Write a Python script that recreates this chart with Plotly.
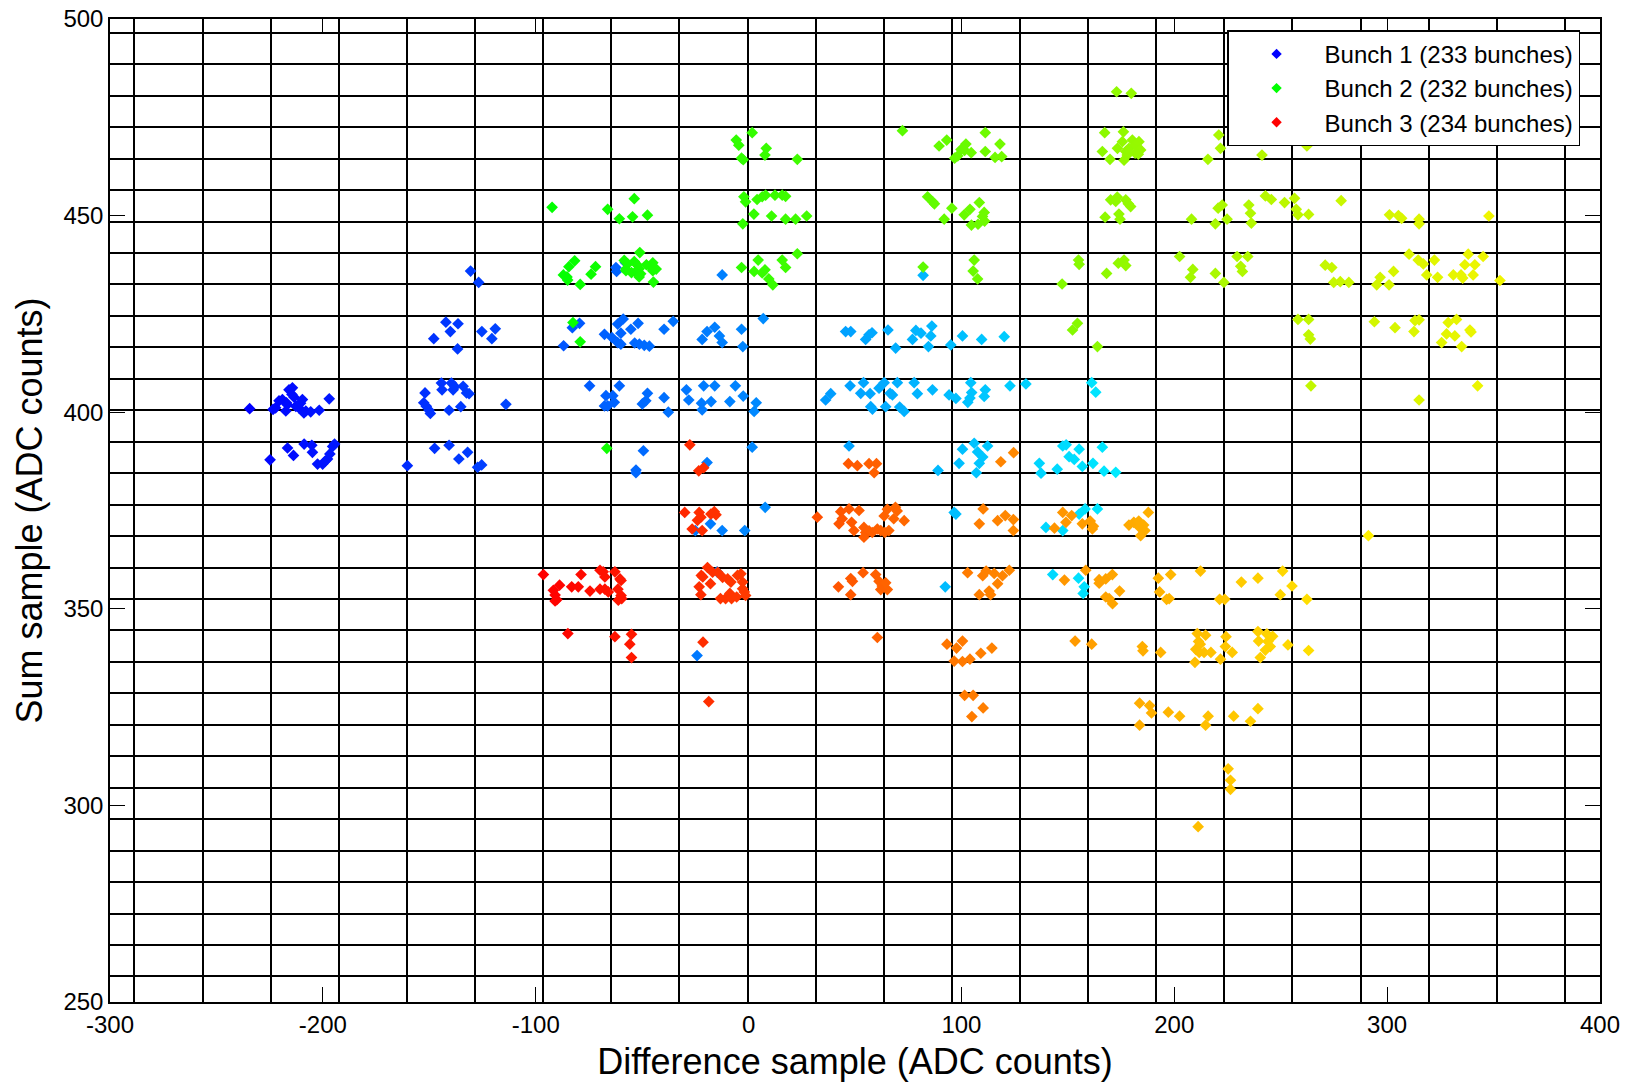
import plotly.graph_objects as go

# ---------------- data ----------------
x_tick_vals = [-300, -200, -100, 0, 100, 200, 300, 400]
y_tick_vals = [250, 300, 350, 400, 450, 500]
legend_names = ["Bunch 1 (233 bunches)", "Bunch 2 (232 bunches)", "Bunch 3 (234 bunches)"]
legend_colors = ["rgb(0,0,255)", "rgb(0,255,0)", "rgb(255,0,0)"]

# Bunch 1 : (difference, sum) pairs
bunch1_pts = [
    (-234.4, 400.9), (-223.4, 400.7), (-222.2, 401.1), (-219, 403.2), (-217.1, 402.4), (-215.9, 405.7),
    (-214.3, 406.2), (-213.5, 403.8), (-212.7, 401.5), (-217.4, 400.3), (-211.1, 401), (-209.6, 403.2),
    (-208, 400.3), (-205.7, 400.1), (-201.7, 400.5), (-197, 403.4), (-220.6, 402.9), (-216.7, 401.9),
    (-212, 401.6), (-208.9, 399.8), (-214.5, 404.5), (-210.5, 402.3),
    (-224.8, 387.9), (-216.6, 390.9), (-213.8, 389), (-208.8, 391.9), (-205.2, 391.6), (-204.9, 389.8),
    (-202.5, 386.8), (-200.1, 386.8), (-197.8, 388.1), (-196.7, 389.4), (-195.4, 391.3), (-194.5, 391.9),
    (-199, 387.5),
    (-152, 404.9), (-152.6, 402.4), (-151.4, 401.5), (-150.1, 400.5), (-149.5, 399.7), (-144.3, 407.4),
    (-144, 405.7), (-139.6, 407.4), (-138.8, 405.7), (-138, 406.5), (-134.1, 406.6), (-132.5, 404.9),
    (-131.3, 404.7), (-140.7, 400.5), (-135.2, 401.4), (-114, 402),
    (-160.3, 386.4), (-147.5, 390.8), (-140.7, 391.6), (-136.1, 388.1), (-132, 389.8), (-127.3, 386),
    (-125.4, 386.6),
    (-142.2, 422.9), (-136.5, 422.5), (-140.1, 420.5), (-147.9, 418.7), (-136.7, 416.1), (-130.6, 435.9),
    (-126.8, 433), (-125.3, 420.5), (-119, 421.2), (-120.6, 418.7),
    (-62.3, 436.8), (-62, 435.8), (-57.9, 438.1),
    (-79.4, 422.6), (-82.8, 421.5), (-86.9, 416.9), (-67.7, 419.8), (-64.2, 419), (-61.5, 417.7),
    (-60, 417.3), (-61.5, 422.4), (-58.9, 423.7), (-60, 420.1), (-55.3, 421.1), (-51.9, 422.6),
    (-53.5, 417.6), (-51.3, 417.3), (-49, 417), (-46.6, 416.8), (-39.7, 421.1), (-35.4, 423.1),
    (-74.7, 406.7), (-67, 404.2), (-67.7, 401.6), (-66.2, 401.6), (-63.1, 402.5), (-63.8, 404.2),
    (-60.7, 406.7), (-47.5, 404.8), (-48.3, 402.9), (-49.9, 402.1), (-39.7, 403.7), (-37.7, 400),
    (-49.4, 390.2), (-52.9, 385.3), (-52.9, 384.6),
    (-12.4, 434.9),
    (-15.9, 421.6), (-19.5, 420.5), (-21.8, 418.5), (-13.7, 419.4), (-12.4, 417.7), (-3.3, 421.1),
    (-2.7, 416.7), (6.9, 423.8),
    (-29.2, 405.7), (-28.1, 403.1), (-21.1, 406.7), (-15.9, 406.7), (-22.1, 402.3), (-21.8, 400.6),
    (-17.6, 402.7), (-8.8, 402.7), (-6.2, 406.7), (-2.5, 404.1), (3.6, 402.4), (2.6, 400.2),
    (1.7, 391.1), (-19.5, 387.2), (7.8, 375.8),
    (-17.9, 371.6), (-12.4, 369.9), (-25, 369.9), (-1.8, 369.9), (-14.8, 359.4), (-24.2, 338.1),
    (45.6, 420.5), (48, 420.5), (56.6, 419.7), (55, 418.5), (58, 420.2), (65.5, 420.9), (69.1, 416.3),
    (77, 418.5), (78.6, 420.8), (81, 420.1), (86.1, 421.9), (85.6, 419.4), (84.5, 416.7), (95, 417.1),
    (100.5, 419.4), (109.5, 418.5), (120.1, 419.2), (82, 434.8),
    (36.2, 403.1), (38.6, 404.7), (47.7, 406.7), (54, 407.5), (52.7, 404.8), (57.1, 404.7), (61.3, 406.1),
    (63.7, 407.5), (69.9, 407.5), (67.6, 404.4), (66.5, 404.8), (57.4, 401.4), (58.2, 400.8), (64.4, 401.4),
    (73.1, 400.2), (71, 401.3), (77.8, 407.5), (79.3, 404.7), (86.4, 405.7), (94.2, 404.4), (97.4, 403.5),
    (104.4, 407.5), (104.8, 405), (104, 403.6), (103, 402.5), (111.2, 405.7), (110.7, 404), (122.8, 406.7),
    (130.3, 407.2),
    (47.2, 391.4),
    (100.5, 390.6), (106, 392.1), (107.6, 389.9), (110, 388.6), (108.4, 387), (112.3, 391.4), (98.9, 387),
    (89, 385.2), (107, 384.6), (97.4, 374.1), (96.6, 374.5), (92.4, 355.6),
    (136.6, 387), (147.6, 391.4), (155.3, 390.6), (166.2, 391.1), (150.6, 388.7), (156.8, 386.2),
    (161.8, 387), (167, 385), (172.5, 384.7), (145, 385.5), (137.4, 384.5), (149.2, 391.7), (153, 388),
    (161.2, 407.5), (163.1, 405.1),
    (139.7, 370.7), (147.6, 369.9), (158.1, 375.4), (163.9, 375.4), (155.3, 374.1), (155, 357.8),
    (157.2, 353.9), (157.7, 355.6), (142.9, 358.7),
]

# Bunch 2
bunch2_pts = [
    (-92.3, 452.1), (-66.2, 451.6), (-53.7, 454.3), (-60.7, 449.2), (-54.5, 449.7), (-47.5, 450.1),
    (-81.7, 438.5), (-84.4, 437), (-85.3, 434.4), (-85, 433.6), (-74, 435.1), (-71.9, 437), (-79.1, 432.5),
    (-87, 434.9),
    (-58.4, 438.6), (-56.8, 437.7), (-57.6, 436), (-53.7, 438.3), (-52.2, 437.4), (-51.4, 436.5),
    (-53, 435.7), (-50.7, 435.2), (-51.4, 434.4), (-45, 438), (-45.8, 436.8), (-43.4, 436.4), (-45, 436),
    (-57.6, 436.4), (-51.1, 440.6), (-44.7, 433.1), (-48, 437.5), (-55, 435.5),
    (-82.5, 422.8), (-79.1, 417.9), (-66.6, 390.8),
    (1.7, 471.1), (-5.8, 469.2), (-4.6, 467.9), (-3.3, 464.6), (-2.5, 464.2), (8.3, 467.1), (7.7, 465.4),
    (22.9, 464.3),
    (-2.2, 454.8), (-1.4, 453.5), (4, 454.1), (6.4, 454.8), (8, 455.2), (12.4, 455.2), (15.8, 455.2),
    (17.4, 454.9), (2.5, 450.4), (10.8, 449.9), (17.4, 449.1), (22.1, 449.1), (27.3, 449.9), (-2.7, 447.9),
    (-3.3, 436.8), (4.5, 438.7), (2.6, 435.8), (7.7, 436.2), (6.4, 435.4), (9.5, 433.9), (11.4, 432.4),
    (15.8, 438.7), (17.4, 436.8), (22.9, 440.3),
    (72.3, 471.6), (89.5, 467.7), (93.1, 469.2), (102.1, 468.2), (111.2, 471.1), (118.1, 468.2),
    (111.2, 466.3), (99.8, 466.8), (98.3, 465.2), (101.5, 466.6), (104.6, 466), (115.8, 464.8),
    (118.9, 465), (96.8, 464.6),
    (84.1, 454.8), (86.5, 453.5), (87.3, 453), (95.5, 451.9), (91.9, 449.1), (108.4, 453.3), (104, 451.6),
    (101.3, 450.2), (110.7, 450.8), (109.9, 449.8), (104.7, 447.6), (107.8, 447.8), (110.9, 448.6),
    (82, 436.9), (106, 438.7), (105.5, 435.9), (107.6, 433.9), (147.3, 432.6),
    (172.9, 481.5), (179.8, 481.1), (167.3, 471.1), (176.1, 471.3), (166.2, 466.3), (169.8, 464.3),
    (173.3, 467.1), (175.6, 468.8), (177.2, 466.3), (178.7, 467.1), (180.3, 469.2), (181.8, 468),
    (183.4, 468.8), (184.2, 466.7), (183.1, 465.6), (177.9, 465.4), (176.4, 464.1), (181.6, 465.9),
    (220.9, 470.5), (221.7, 467.1), (215.8, 464.3), (241.2, 465.4), (262.3, 467.7),
    (170.1, 454), (173.2, 454.7), (172.5, 453.6), (177.2, 454), (178.4, 453), (179.5, 452.3),
    (167.5, 449.6), (174, 450.4), (174.5, 449.1),
    (208.1, 449.1), (219.3, 447.9), (220.6, 451.9), (222.5, 452.7), (224.8, 449.1), (235, 452.7),
    (235.8, 450.6), (236.2, 448.1), (242.8, 455), (245.6, 454.1), (251.8, 453.3), (256.5, 454.4),
    (257.3, 451.6), (258.1, 450.2), (263.1, 450.3), (278.4, 453.8),
    (301.1, 450.2), (305.3, 450), (306.8, 449.3), (315, 449.1), (315, 447.9), (347.8, 449.9),
    (155, 438.7), (155.3, 437.6), (168.2, 435.3), (173.7, 437.9), (176.4, 438.7), (177.2, 437.3),
    (202.5, 439.6), (208.7, 436.3), (207.6, 434.3), (219.3, 435.3), (229.5, 439.6), (234.5, 439.6),
    (231.2, 437.1), (232, 435.8), (223.3, 433),
    (270.9, 437.4), (274, 436.8), (274.9, 433), (278, 433.2), (282, 433), (310.3, 440.2), (314.6, 438.7),
    (317, 437.7), (322.2, 438.7), (318.6, 434.9), (323.7, 434.3), (331.1, 434.9), (335.5, 434.1),
    (336.5, 437.5), (341.2, 437.5), (338.1, 440.2), (345.1, 439.6), (340.4, 434.9), (303, 435.8),
    (296.7, 434.3), (295.1, 432.4), (300.9, 432.4), (334.7, 434.9), (353, 433.5),
    (154.5, 422.6), (152.2, 420.9), (163.9, 416.7),
    (258.1, 423.6), (263.1, 423.6), (263.1, 419.7), (263.9, 418.6), (294, 423), (303.7, 421.5),
    (313.1, 423.3), (315, 423.5), (312.6, 420.5), (328.7, 422.8), (332.6, 423.6), (327.9, 419.9),
    (331.8, 419.4), (325.6, 417.7), (335, 416.7), (338.9, 420.9), (339.4, 420.4),
    (264.2, 406.7), (342.5, 406.7), (315, 403.1),
]

# Bunch 3
bunch3_pts = [
    (-96.4, 358.7), (-90.9, 353.5), (-91.7, 354.7), (-90.1, 352.3), (-90.9, 352), (-88.8, 356),
    (-83.1, 355.6), (-80, 355.6), (-78.7, 358.7), (-74.5, 354.5), (-69.8, 359.8), (-68.3, 359.4),
    (-67.5, 358.1), (-69.8, 355), (-67.5, 355), (-65.9, 354.3), (-62.8, 359.4), (-60.4, 357.6),
    (-59.9, 357.2), (-61.4, 355), (-59.9, 353.4), (-59.6, 352.6), (-61.2, 352.2),
    (-84.9, 343.7), (-62.8, 342.9), (-55, 343.5), (-55.8, 341), (-55, 337.6),
    (-27.6, 391.7), (-23.4, 385.1), (-21.1, 385.9),
    (-30, 374.5), (-23.2, 374.5), (-22.4, 373.3), (-24, 372.5), (-17.7, 374.1), (-16.1, 374.7),
    (-15.3, 373.9), (-26.5, 370.3), (-21.8, 369.9),
    (-21.5, 358.1), (-22.2, 358.5), (-17.9, 356.4), (-23.2, 355.6), (-22.4, 353.6), (-19.3, 360.5),
    (-16.9, 359.3), (-14.5, 359.3), (-12.2, 358), (-9.8, 357.6), (-8.3, 356.8), (-5.2, 358.5),
    (-3.6, 358.9), (-2.8, 356.8), (-2.8, 355.1), (-2, 354.3), (-1.4, 353.4), (-13.2, 352.6),
    (-10.8, 352.6), (-8.8, 353.9), (-8, 352.6), (-5.6, 353),
    (-21.4, 341.5), (-18.7, 326.4),
    (32.3, 373.3), (43.3, 374.7), (44, 372.9), (47.2, 375.4), (51.9, 375), (48.4, 372), (42.5, 371.6),
    (49.5, 369.9), (54.2, 370.7), (55, 369.4), (56.6, 369.8), (54.2, 368.2), (58.1, 369.4), (60.5, 370.3),
    (62.1, 369.9), (63.7, 373.6), (65.2, 375.3), (69, 375.8), (69.8, 374.9), (68.2, 372.9), (64, 369.4),
    (65.9, 369.9), (73.1, 372.4),
    (46.9, 386.9), (51.1, 386.4), (56.6, 386.9), (60.1, 386.9), (59, 384.6),
    (110.2, 375.4), (108.4, 371.6), (117, 372.4), (120.6, 373.7), (124.4, 372.7), (124.4, 369.9),
    (118.5, 387.4), (124.5, 389.7),
    (143.7, 370.5), (147.6, 374.5), (149.1, 372),
    (151.8, 373.7), (156.8, 371.6), (161.5, 370.3), (160.5, 372.3), (162, 371),
    (187.8, 374.5), (178.7, 371.3), (181, 372), (183.3, 372.3), (185.6, 371.3), (186.2, 369.9),
    (184.2, 368.6), (183.5, 370.8),
    (291.2, 368.6),
    (42.2, 355.6), (48, 357.7), (48.8, 357), (53.8, 359.2), (48, 353.6), (59.7, 358.7), (61.3, 357),
    (62.8, 355.8), (64.4, 356.6), (65.2, 354.9), (62.1, 354.9),
    (102.9, 359.2), (110, 358.4), (111.6, 359.6), (115.4, 359), (119.3, 358.4), (122.5, 359.8),
    (117, 356.4), (113, 354.5), (113.7, 353.6), (108.4, 353.6),
    (148.4, 357.3),
    (158.4, 359.8), (164.7, 357.4), (167.8, 357.6), (170.9, 358.7), (167.8, 353), (169.4, 352.6),
    (171, 351.3), (174.3, 354.5), (164.7, 356.5),
    (192.5, 357.8), (198.3, 358.7), (193.1, 354.3), (196.4, 352.4), (197.6, 352.6), (212.3, 359.6),
    (221.3, 352.4), (223.7, 352.4), (231.5, 356.8), (239.3, 357.8), (250.9, 359.6), (255.3, 355.8),
    (249.8, 353.6), (262.3, 352.4),
    (60.5, 342.7),
    (93.2, 341), (100.5, 341.8), (97.7, 340), (96.6, 336.7), (100.5, 336.6), (104, 337.2), (109.1, 338.7),
    (114.3, 340),
    (101.5, 328), (105.5, 328), (110.2, 324.8), (104.9, 322.6),
    (153.4, 341.8), (161.2, 341), (185, 340.4), (185.3, 339.3), (193.6, 338.9), (210.8, 343.7),
    (214.7, 343.3), (211.4, 341.7), (212.2, 341), (210.1, 339.7), (211.7, 338.9), (214, 338.9),
    (217.2, 338.9), (209.7, 336.4), (221.7, 337.2), (224.3, 342.9), (224, 340.4), (227.2, 338.9),
    (239.3, 344.2), (243.5, 343.6), (246.2, 343), (244, 341.7), (239.6, 341.8), (245.1, 340.4),
    (242.8, 339.5), (253.4, 340.8), (240.4, 337.6), (263.1, 339.4),
    (183.7, 326), (188.4, 325.4), (189.3, 323.5), (183.7, 320.4), (197.2, 323.7), (202.5, 322.7),
    (215.9, 322.7), (214.7, 320.4), (227.9, 322.7), (235.8, 321.4), (239.3, 324.6),
    (225.3, 309.3), (226.4, 306.4), (226.4, 304.1), (211.2, 294.6),
]

# per-bunch colour ramps (colour follows the difference value)
bunch_scales = [
    dict(colorscale=[[0, "rgb(0,0,255)"], [1, "rgb(0,235,255)"]], cmin=-235, cmax=175),
    dict(colorscale=[[0, "rgb(0,255,0)"], [1, "rgb(240,245,0)"]], cmin=-95, cmax=350),
    dict(colorscale=[[0, "rgb(255,0,0)"], [1, "rgb(255,245,0)"]], cmin=-95, cmax=300),
]

# ---------------- figure ----------------
FONT = "Liberation Sans, Arial, Helvetica, sans-serif"
fig = go.Figure()

for pts, sc in zip([bunch1_pts, bunch2_pts, bunch3_pts], bunch_scales):
    xs = [p[0] for p in pts]
    ys = [p[1] for p in pts]
    fig.add_trace(go.Scatter(
        x=xs, y=ys, mode="markers", showlegend=False, hoverinfo="x+y",
        marker=dict(symbol="diamond", size=9, color=xs, line=dict(width=0), **sc),
    ))

for name, col in zip(legend_names, legend_colors):
    fig.add_trace(go.Scatter(
        x=[None], y=[None], mode="markers", name=name,
        marker=dict(symbol="diamond", size=8, color=col, line=dict(width=0)),
    ))

axis_common = dict(
    showline=True, linecolor="black", linewidth=1.5, mirror="ticks",
    ticks="inside", ticklen=15, tickwidth=1, tickcolor="black",
    showgrid=False, zeroline=False,
    tickfont=dict(family=FONT, size=24, color="black"),
)

fig.update_xaxes(
    range=[-300, 400], tickmode="array", tickvals=x_tick_vals,
    ticktext=[str(v) for v in x_tick_vals],
    minor=dict(tick0=-0.5, dtick=32, showgrid=True, gridcolor="black", gridwidth=1.6, ticks=""),
    title=dict(text="Difference sample (ADC counts)", font=dict(family=FONT, size=36, color="black"), standoff=12),
    **axis_common,
)
fig.update_yaxes(
    range=[250, 500], tickmode="array", tickvals=y_tick_vals,
    ticktext=[str(v) for v in y_tick_vals],
    minor=dict(tick0=0.5, dtick=8, showgrid=True, gridcolor="black", gridwidth=1.6, ticks=""),
    title=dict(text="Sum sample (ADC counts)", font=dict(family=FONT, size=36, color="black"), standoff=10),
    **axis_common,
)

fig.update_layout(
    width=1628, height=1082,
    margin=dict(l=110, r=28, t=19, b=80, autoexpand=False),
    paper_bgcolor="white", plot_bgcolor="white",
    font=dict(family=FONT, color="black"),
    legend=dict(
        x=0.7497, y=0.9885, xanchor="left", yanchor="top",
        bgcolor="white", bordercolor="black", borderwidth=1.5,
        font=dict(family=FONT, size=24, color="black"),
        itemwidth=86, tracegroupgap=0,
    ),
)

fig.write_html("out.html")
